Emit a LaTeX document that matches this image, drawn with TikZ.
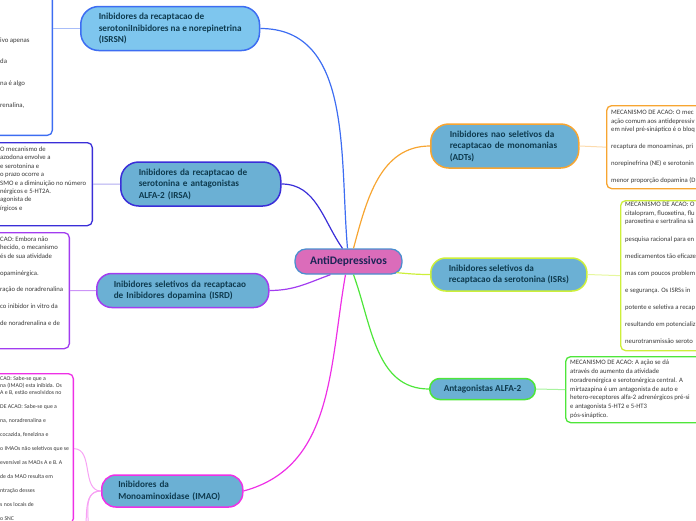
\documentclass[tikz,border=0pt]{standalone}
\usepackage{fontspec}
\setmainfont{Carlito}
\usepackage{tikz}

\definecolor{rootfill}{HTML}{DB6CBA}
\definecolor{rootline}{HTML}{4A8FCF}
\definecolor{topicfill}{HTML}{6BB0D4}
\definecolor{skyfill}{HTML}{7EC6EE}
\definecolor{topictext}{HTML}{0E3A4E}
\definecolor{roottext}{HTML}{1C2456}
\definecolor{notetext}{HTML}{3A3A3A}
\definecolor{isrsnc}{HTML}{3D6DF2}
\definecolor{irsac}{HTML}{3A2ED8}
\definecolor{isrdc}{HTML}{A23CF0}
\definecolor{imaoc}{HTML}{EE30E6}
\definecolor{adtsc}{HTML}{F7A531}
\definecolor{isrsc}{HTML}{CDEF3A}
\definecolor{alfac}{HTML}{4EE63A}

\begin{document}
\begin{tikzpicture}[x = 1pt, y = -1pt,
    topic/.style = {draw, line width = 1.5pt, fill = topicfill, anchor = west, inner xsep = 18pt, inner ysep = 0pt,
        align = left, text = topictext, font = \bfseries\fontsize{9.2}{11.5}\selectfont},
    note/.style = {draw, line width = 1.3pt, fill = white, rounded corners = 5pt, inner sep = 0pt},
    notelines/.style = {anchor = north west, inner sep = 0pt, align = left, text = notetext,
        font = \fontsize{6.7}{8.45}\selectfont},
    link/.style = {line width = 1.2pt},
    twig/.style = {line width = 1pt}]
    \useasboundingbox (0,0) rectangle (696,520);

    % central topic
    \node[draw = rootline, line width = 1.3pt, fill = rootfill, rounded corners = 11pt, inner xsep = 15pt,
        minimum height = 25pt, text = roottext, font = \bfseries\fontsize{11.5}{13}\selectfont] (root) at (348.5,261.5) {AntiDepressivos};

    % main topics
    \node[topic, draw = isrsnc, fill = skyfill, minimum height = 44pt, rounded corners = 18pt] (isrsn) at (80,28.5)
        {Inibidores da recaptacao de\\serotoniInibidores na e norepinetrina\\(ISRSN)};
    \node[topic, draw = irsac, minimum height = 44pt, rounded corners = 18pt, text width = 124pt] (irsa) at (120,184)
        {Inibidores da recaptacao de\\serotonina e antagonistas\\ALFA-2 (IRSA)};
    \node[topic, draw = isrdc, minimum height = 34pt, rounded corners = 15pt, inner xsep = 17pt, text width = 138pt] (isrd) at (96,290.5)
        {Inibidores seletivos da recaptacao\\de Inibidores dopamina (ISRD)};
    \node[topic, draw = imaoc, minimum height = 32pt, rounded corners = 14pt, inner xsep = 16.5pt, text width = 108pt] (imao) at (101,491)
        {Inibidores da\\Monoaminoxidase (IMAO)};
    \node[topic, draw = adtsc, minimum height = 44pt, rounded corners = 18pt, inner xsep = 19pt, text width = 110pt] (adts) at (430,146)
        {Inibidores nao seletivos da\\recaptacao de monomanias\\(ADTs)};
    \node[topic, draw = isrsc, minimum height = 33pt, rounded corners = 15pt] (isrs) at (430,274.5)
        {Inibidores seletivos da\\recaptacao da serotonina (ISRs)};
    \node[topic, draw = alfac, minimum height = 21pt, rounded corners = 10pt, inner xsep = 14pt] (alfa) at (429,389)
        {Antagonistas ALFA-2};

    % notes
    \node[note, draw = isrsnc, anchor = south east, minimum width = 250pt, minimum height = 160pt] (isrsnbox) at (53,136) {};
    \node[note, draw = irsac, anchor = north east, minimum width = 250pt, minimum height = 83pt] (irsabox) at (93,142) {};
    \node[note, draw = isrdc, anchor = north east, minimum width = 250pt, minimum height = 116pt] (isrdbox) at (70,232) {};
    \node[note, draw = imaoc, anchor = north east, minimum width = 250pt, minimum height = 150pt] (imaobox) at (74,373) {};
    \node[note, draw = adtsc, anchor = north west, minimum width = 200pt, minimum height = 83pt] (adtsbox) at (606,105) {};
    \node[note, draw = isrsc, anchor = north west, minimum width = 200pt, minimum height = 150pt] (isrsbox) at (620,200) {};
    \node[note, draw = alfac, anchor = north west, minimum width = 200pt, minimum height = 66pt] (alfabox) at (565,356) {};

    \node[notelines, font = \fontsize{6.8}{10.85}\selectfont] (isrsntext) at (0,37.4)
        {ivo apenas\\ \\da\\ \\na é algo\\ \\renalina,};
    \node[notelines, font = \fontsize{6.7}{8.4}\selectfont] (irsatext) at (0,146.7)
        {O mecanismo de\\azodona envolve a\\e serotonina e\\o prazo ocorre a\\SMO e a diminuição no número\\nérgicos e 5-HT2A.\\agonista de\\írgicos e};
    \node[notelines, font = \fontsize{6.7}{8.4}\selectfont] (isrdtext) at (0,236.7)
        {CAO: Embora não\\hecido, o mecanismo\\és de sua atividade\\ \\opaminérgica.\\ \\ração de noradrenalina\\ \\co inibidor in vitro da\\ \\de noradrenalina e de};
    \node[notelines, font = \fontsize{5.8}{7}\selectfont] (imaotext) at (0,376.5)
        {CAO: Sabe-se que a\\na (IMAO) esta inibida. Os\\A e B, estão envolvidos no\\ \\DE ACAO: Sabe-se que a\\ \\na, noradrenalina e\\ \\cocazida, fenelzina e\\ \\o IMAOs não seletivos que se\\ \\eversível  as MAOs A e B. A\\ \\de da MAO resulta em\\ \\ntração desses\\ \\s nos locais de\\ \\o SNC};
    \node[notelines] (adtstext) at (611,110)
        {MECANISMO DE ACAO: O mec\\ação comum aos antidepressiv\\em nível pré-sináptico é o bloq\\ \\recaptura de monoaminas, pri\\ \\norepinefrina (NE) e serotonin\\ \\menor proporção dopamina (D};
    \node[notelines, font = \fontsize{6.7}{8.52}\selectfont] (isrstext) at (625,202.4)
        {MECANISMO DE ACAO: O\\citalopram, fluoxetina, flu\\paroxetina e sertralina sã\\ \\pesquisa racional para en\\ \\medicamentos tão eficaze\\ \\mas com poucos problem\\ \\e segurança.  Os ISRSs in\\ \\potente e seletiva a recap\\ \\resultando em potencializ\\ \\neurotransmissão seroto};
    \node[notelines, font = \fontsize{6.7}{8.73}\selectfont] (alfatext) at (570,360)
        {MECANISMO DE ACAO: A ação se dá\\através do aumento da atividade\\noradrenérgica e serotonérgica central. A\\mirtazapina é um antagonista de auto e\\hetero-receptores alfa-2 adrenérgicos pré-si\\e antagonista 5-HT2 e 5-HT3\\pós-sináptico.};

    % links from the centre
    \draw[link, isrsnc] (isrsn.east) to[out = 0, in = 95] ([xshift = -1pt]root.north);
    \draw[link, irsac] (irsa.east) to[out = 0, in = 125] ([xshift = -6pt]root.north);
    \draw[link, adtsc] ([xshift = 5pt]root.north) to[out = 75, in = 180] (adts.west);
    \draw[link, isrsc] ([xshift = -6pt, yshift = 2pt]root.south east) to[out = -5, in = 180] (isrs.west);
    \draw[link, alfac] ([xshift = 5pt]root.south) to[out = -70, in = 180] (alfa.west);
    \draw[link, imaoc] ([xshift = -3pt]root.south) to[out = -100, in = 15] (imao.east);
    \draw[link, isrdc] ([xshift = -18pt]root.south) to[out = -160, in = 0] (isrd.east);

    % links to the notes
    \coordinate (imaodowna) at (84,540);
    \coordinate (imaodownb) at (88,545);
    \draw[twig, isrsnc!45] (isrsnbox.east |- isrsn.west) -- (isrsn.west);
    \draw[twig, irsac!40] (irsabox.east) -- (irsa.west);
    \draw[twig, isrdc!55] (isrdbox.east) -- (isrd.west);
    \draw[twig, imaoc!45] (imaobox.east) to[out = 0, in = 180] (imao.west);
    \draw[twig, imaoc!45] (imao.west) to[out = 180, in = 75] (imaodowna);
    \draw[twig, imaoc!45] (imao.west) to[out = 180, in = 80] (imaodownb);
    \draw[twig, adtsc!40] (adts.east) -- (adtsbox.west);
    \draw[twig, isrsc!50] (isrs.east) -- (isrsbox.west);
    \draw[twig, alfac!50] (alfa.east) -- (alfabox.west);
\end{tikzpicture}
\end{document}
